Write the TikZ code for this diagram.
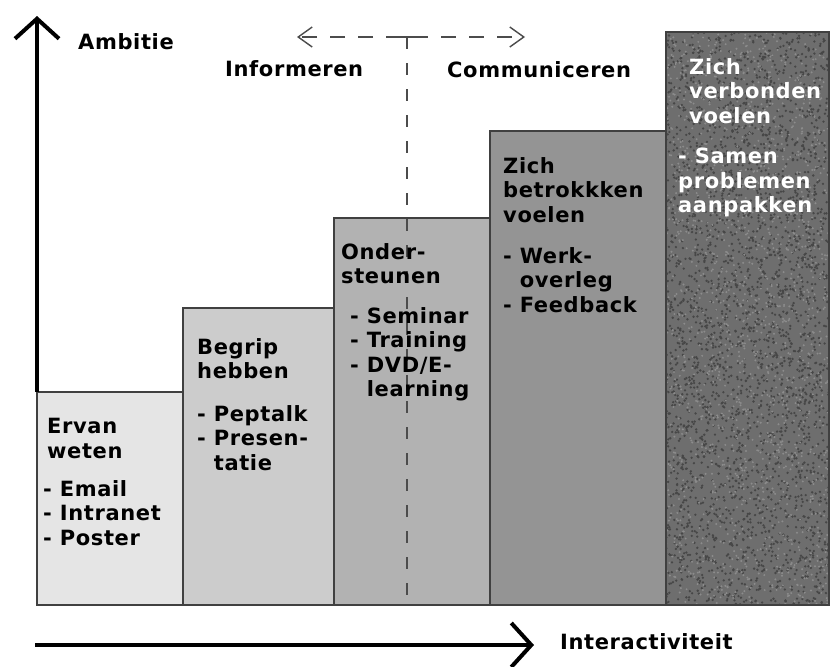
\documentclass[tikz,border=0pt]{standalone}
\usepackage{fontspec}
\setmainfont{DejaVu Sans}[LetterSpace=3]
\usetikzlibrary{arrows.meta,positioning}

\begin{document}
\begin{tikzpicture}[x=1pt, y=-1pt,
  stage/.style={rectangle, draw=black!75, line width=1.6pt, anchor=south west, inner sep=0pt, outer sep=0pt},
  boxtext/.style={inner sep=0pt, align=left, font=\bfseries\fontsize{21}{24.5}\selectfont},
  heading/.style={inner sep=0pt, anchor=west, font=\bfseries\fontsize{21}{24.5}\selectfont},
  axis/.style={line width=4pt, -{Straight Barb[length=20pt, width=44pt]}},
  split/.style={black!70, line width=1.4pt},
]
\useasboundingbox (0,0) rectangle (831,667);

% the five steps, each one higher than the one before
\node[stage, fill=black!10, minimum width=146pt, minimum height=213pt] (ervan) at (37,605) {};
\node[stage, fill=black!20, minimum width=151pt, minimum height=297pt] (begrip) at (ervan.south east) {};
\node[stage, fill=black!30, minimum width=156pt, minimum height=387pt] (steun) at (begrip.south east) {};
\node[stage, fill=black!42, minimum width=176pt, minimum height=474pt] (betrok) at (steun.south east) {};
\node[stage, fill=black!57, minimum width=163pt, minimum height=573pt] (verbond) at (betrok.south east) {};

% speckled fill of the top step
\begin{scope}
  \clip (verbond.south west) rectangle (verbond.north east);
  \pgfmathsetseed{11}
  \foreach \i in {1,...,3000}
    \fill[black!72] ({666+163*rnd},{32+573*rnd}) circle (1.3pt);
  \foreach \i in {1,...,1600}
    \fill[black!45] ({666+163*rnd},{32+573*rnd}) circle (1.1pt);
\end{scope}
\draw[black!75, line width=1.6pt] (verbond.south west) rectangle (verbond.north east);

% dashed split between informeren and communiceren
\coordinate (split) at (407,37);
\coordinate (splitfoot) at (407,605);
\coordinate (infotip) at (297,37);
\coordinate (commtip) at (525,37);
\draw[split, dash pattern=on 12pt off 14pt] (split) -- (splitfoot);
\draw[split, dash pattern=on 15pt off 13pt, dash phase=-6pt, -{Straight Barb[length=14pt, width=20pt]}] (split) -- (infotip);
\draw[split, dash pattern=on 15pt off 13pt, dash phase=-6pt, -{Straight Barb[length=14pt, width=20pt]}] (split) -- (commtip);
\draw[split] ([xshift=-20pt]split) -- ([xshift=18pt]split);

% axes
\coordinate (ambtip) at (37,16);
\coordinate (intertip) at (534,645);
\coordinate (interstart) at (35,645);
\draw[axis] (ervan.north west) -- (ambtip);
\draw[axis] (interstart) -- (intertip);

\node[heading] (ambitie) at (78,42) {Ambitie};
\node[heading] (informeren) at (225,69) {Informeren};
\node[heading] (communiceren) at (447,70) {Communiceren};
\node[heading] (interactiviteit) at (560,642) {Interactiviteit};

% texts of the steps
\node[boxtext, below right=26pt and 10pt of ervan.north west] (ervantitle) {Ervan\\weten};
\node[boxtext, below right=88pt and 6pt of ervan.north west] (ervanlist) {- Email\\- Intranet\\- Poster};

\node[boxtext, below right=30pt and 14pt of begrip.north west] (begriptitle) {Begrip\\hebben};
\node[boxtext, below right=97pt and 14pt of begrip.north west] (begriplist) {- Peptalk\\- Presen-\\\phantom{- }tatie};

\node[boxtext, below right=25pt and 7pt of steun.north west] (steuntitle) {Onder-\\steunen};
\node[boxtext, below right=89pt and 16pt of steun.north west] (steunlist) {- Seminar\\- Training\\- DVD/E-\\\phantom{- }learning};

\node[boxtext, below right=26pt and 13pt of betrok.north west] (betroktitle) {Zich\\betrokkken\\voelen};
\node[boxtext, below right=116pt and 13pt of betrok.north west] (betroklist) {- Werk-\\\phantom{- }overleg\\- Feedback};

\node[boxtext, text=white, below right=26pt and 23pt of verbond.north west] (verbondtitle) {Zich\\verbonden\\voelen};
\node[boxtext, text=white, below right=116pt and 12pt of verbond.north west] (verbondlist) {- Samen\\problemen\\aanpakken};
\end{tikzpicture}
\end{document}
